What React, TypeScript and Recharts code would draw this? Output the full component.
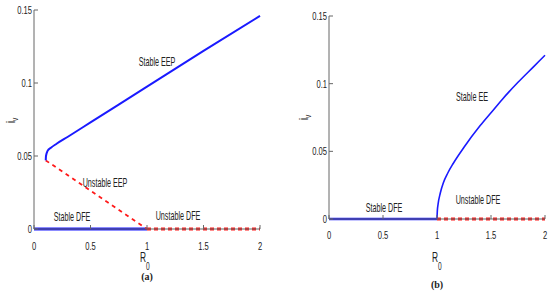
import { LineChart, Line, XAxis, YAxis } from "recharts";

const xTicks = [0, 0.5, 1, 1.5, 2];
const xTickLabels = ["0", "0.5", "1", "1.5", "2"];
const yTicks = [0, 0.05, 0.1, 0.15];
const yTickLabels = ["0", "0.05", "0.1", "0.15"];

// (a) backward bifurcation
const stableEEP = [
  { r: 0.104, i: 0.047 },
  { r: 0.106, i: 0.05 },
  { r: 0.12, i: 0.0535 },
  { r: 0.15, i: 0.0557 },
  { r: 0.2, i: 0.0584 },
  { r: 0.3, i: 0.0632 },
  { r: 0.5, i: 0.073 },
  { r: 1, i: 0.0975 },
  { r: 1.5, i: 0.122 },
  { r: 2, i: 0.146 },
];
const unstableEEP = [
  { r: 0.104, i: 0.047 },
  { r: 1, i: 0 },
];
const stableDFEa = [
  { r: 0, i: 0 },
  { r: 1, i: 0 },
];
const unstableDFEa = [
  { r: 1, i: 0 },
  { r: 2, i: 0 },
];

// (b) forward bifurcation
const stableEE = [
  { r: 1, i: 0 },
  { r: 1.003, i: 0.006 },
  { r: 1.01, i: 0.011 },
  { r: 1.03, i: 0.019 },
  { r: 1.06, i: 0.027 },
  { r: 1.1, i: 0.034 },
  { r: 1.15, i: 0.041 },
  { r: 1.25, i: 0.053 },
  { r: 1.4, i: 0.069 },
  { r: 1.5, i: 0.0785 },
  { r: 1.6, i: 0.088 },
  { r: 1.75, i: 0.101 },
  { r: 1.9, i: 0.113 },
  { r: 2, i: 0.121 },
];
const stableDFEb = [
  { r: 0, i: 0 },
  { r: 1, i: 0 },
];
const unstableDFEb = [
  { r: 1, i: 0 },
  { r: 2, i: 0 },
];

const BLUE = "#1a1aff";
const RED = "#ff1a1a";
const AXIS = "#666";
const FONT = "'Liberation Sans', Arial, sans-serif";

const Narrow = ({ x, y, anchor = "middle", size = 11.5, sx = 0.66, children }: any) => (
  <text
    transform={`translate(${x},${y}) scale(${sx},1)`}
    textAnchor={anchor}
    fontFamily={FONT}
    fontSize={size}
    fill="#222"
  >
    {children}
  </text>
);

const bottomTick = (off: number) => (props: any) => {
  const { x, y, payload } = props;
  const idx = xTicks.indexOf(payload.value);
  return (
    <g>
      <line x1={x} y1={y} x2={x} y2={y - 4} stroke={AXIS} />
      <Narrow x={x} y={y + off}>{xTickLabels[idx]}</Narrow>
    </g>
  );
};

const LeftTick = (props: any) => {
  const { x, y, payload } = props;
  const idx = yTicks.indexOf(payload.value);
  return (
    <g>
      <line x1={x} y1={y} x2={x + 4} y2={y} stroke={AXIS} />
      <Narrow x={x - 2} y={y + 4} anchor="end">{yTickLabels[idx]}</Narrow>
    </g>
  );
};

const TopTick = (props: any) => {
  const { x, y } = props;
  return <line x1={x} y1={y} x2={x} y2={y + 4} stroke={AXIS} />;
};

const RightTick = (props: any) => {
  const { x, y } = props;
  return <line x1={x} y1={y} x2={x - 4} y2={y} stroke={AXIS} />;
};

function Panel({ left, width, margin, yWidth, xHeight, off, series }: any) {
  return (
    <div style={{ position: "absolute", left, top: 0 }}>
      <LineChart width={width} height={292} margin={margin}>
        <XAxis
          dataKey="r"
          type="number"
          domain={[0, 2]}
          ticks={xTicks}
          height={xHeight}
          tickSize={0}
          tickMargin={0}
          tickLine={false}
          stroke={AXIS}
          tick={bottomTick(off)}
        />
        <XAxis
          xAxisId="top"
          orientation="top"
          type="number"
          domain={[0, 2]}
          ticks={xTicks}
          height={0}
          tickSize={0}
          tickMargin={0}
          tickLine={false}
          stroke={AXIS}
          tick={TopTick}
        />
        <YAxis
          type="number"
          domain={[0, 0.15]}
          ticks={yTicks}
          width={yWidth}
          tickSize={0}
          tickMargin={0}
          tickLine={false}
          stroke={AXIS}
          tick={LeftTick}
        />
        <YAxis
          yAxisId="right"
          orientation="right"
          type="number"
          domain={[0, 0.15]}
          ticks={yTicks}
          width={0}
          tickSize={0}
          tickMargin={0}
          tickLine={false}
          stroke={AXIS}
          tick={RightTick}
        />
        {series.map((s: any, k: number) => (
          <Line
            key={k}
            data={s.data}
            dataKey="i"
            type={s.curve || "linear"}
            stroke={s.color}
            strokeWidth={s.width}
            strokeDasharray={s.dash}
            dot={false}
            activeDot={false}
            isAnimationActive={false}
          />
        ))}
      </LineChart>
    </div>
  );
}

export default function App() {
  return (
    <div style={{ position: "absolute", left: 0, top: 0, width: 550, height: 292, background: "#fff" }}>
      <Panel
        left={0}
        width={275}
        margin={{ top: 10, right: 15, left: 0, bottom: 33 }}
        yWidth={34}
        xHeight={30}
        off={21}
        series={[
          { data: stableDFEa, color: BLUE, width: 3 },
          { data: unstableDFEa, color: RED, width: 2.8, dash: "4 3" },
          { data: unstableEEP, color: RED, width: 1.8, dash: "4 4" },
          { data: stableEEP, color: BLUE, width: 2, curve: "monotone" },
        ]}
      />
      <Panel
        left={275}
        width={275}
        margin={{ top: 16, right: 5, left: 0, bottom: 43 }}
        yWidth={54}
        xHeight={30}
        off={20}
        series={[
          { data: stableDFEb, color: BLUE, width: 2.5 },
          { data: unstableDFEb, color: RED, width: 2.8, dash: "4 3" },
          { data: stableEE, color: BLUE, width: 1.6, curve: "monotone" },
        ]}
      />
      <svg width={550} height={292} style={{ position: "absolute", left: 0, top: 0, pointerEvents: "none" }}>
        {/* annotations (a) */}
        <Narrow x={157} y={66} size={12} sx={0.6}>Stable EEP</Narrow>
        <Narrow x={105} y={187} size={12} sx={0.6}>Unstable EEP</Narrow>
        <Narrow x={72} y={221} size={12} sx={0.6}>Stable DFE</Narrow>
        <Narrow x={178} y={220} size={12} sx={0.6}>Unstable DFE</Narrow>
        {/* annotations (b) */}
        <Narrow x={472} y={101} size={12} sx={0.6}>Stable EE</Narrow>
        <Narrow x={384} y={212} size={12} sx={0.6}>Stable DFE</Narrow>
        <Narrow x={478} y={204} size={12} sx={0.6}>Unstable DFE</Narrow>
        {/* axis titles */}
        <Narrow x={140} y={262} anchor="start" size={14} sx={0.6}>R</Narrow>
        <Narrow x={146} y={270} anchor="start" size={11} sx={0.6}>0</Narrow>
        <Narrow x={432} y={262} anchor="start" size={14} sx={0.6}>R</Narrow>
        <Narrow x={438} y={270} anchor="start" size={11} sx={0.6}>0</Narrow>
        <text transform="translate(15,123) rotate(-90) scale(0.7,1)" fontFamily={FONT} fontSize={13} fill="#222">
          i<tspan fontSize={9} dy={3}>v</tspan>
        </text>
        <text transform="translate(308,120) rotate(-90) scale(0.7,1)" fontFamily={FONT} fontSize={13} fill="#222">
          i<tspan fontSize={9} dy={3}>v</tspan>
        </text>
        {/* captions */}
        <text x={147} y={280} textAnchor="middle" fontFamily="'Liberation Serif', serif" fontWeight="bold" fontSize={10} fill="#222">(a)</text>
        <text x={437} y={288} textAnchor="middle" fontFamily="'Liberation Serif', serif" fontWeight="bold" fontSize={10} fill="#222">(b)</text>
      </svg>
    </div>
  );
}
